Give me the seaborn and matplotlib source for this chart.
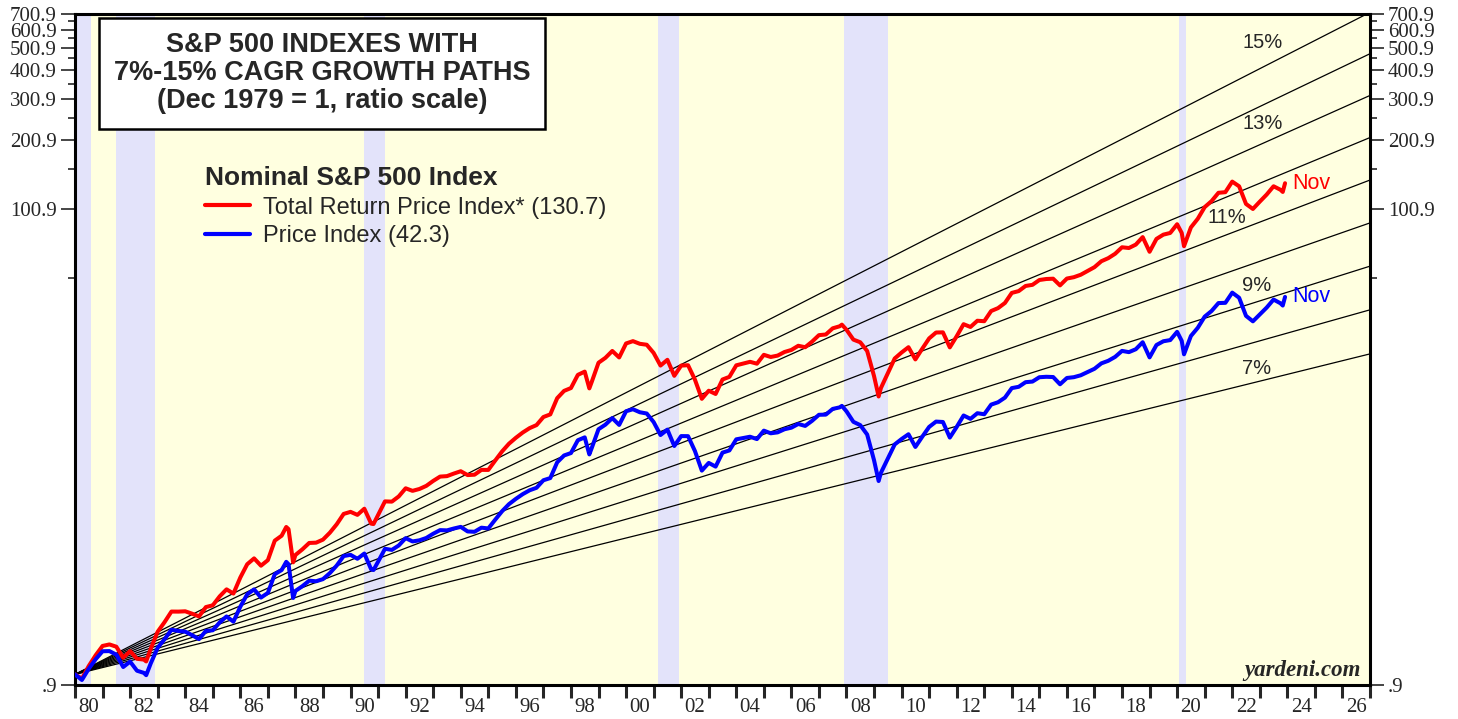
import numpy as np
import pandas as pd
import matplotlib
matplotlib.use("Agg")
import matplotlib.pyplot as plt
import seaborn as sns
from matplotlib.ticker import FixedLocator, NullFormatter

# DATA (Dec 1979 = 1, month-end values)
dates = [
    "1979-12", "1980-03", "1980-06", "1980-09", "1980-12", "1981-03", "1981-06", "1981-09", "1981-12",
    "1982-03", "1982-06", "1982-07", "1982-09", "1982-12", "1983-03", "1983-06", "1983-09", "1983-12",
    "1984-03", "1984-06", "1984-09", "1984-12", "1985-03", "1985-06", "1985-09", "1985-12",
    "1986-03", "1986-06", "1986-09", "1986-12", "1987-03", "1987-06", "1987-08", "1987-09", "1987-11", "1987-12",
    "1988-03", "1988-06", "1988-09", "1988-12", "1989-03", "1989-06", "1989-09", "1989-12",
    "1990-03", "1990-06", "1990-09", "1990-10", "1990-12", "1991-03", "1991-06", "1991-09", "1991-12",
    "1992-03", "1992-06", "1992-09", "1992-12", "1993-03", "1993-06", "1993-09", "1993-12",
    "1994-03", "1994-06", "1994-09", "1994-12", "1995-03", "1995-06", "1995-09", "1995-12",
    "1996-03", "1996-06", "1996-09", "1996-12", "1997-03", "1997-06", "1997-09", "1997-12",
    "1998-03", "1998-06", "1998-08", "1998-09", "1998-12", "1999-03", "1999-06", "1999-09", "1999-12",
    "2000-03", "2000-06", "2000-09", "2000-12", "2001-03", "2001-06", "2001-09", "2001-12",
    "2002-03", "2002-06", "2002-09", "2002-12", "2003-03", "2003-06", "2003-09", "2003-12",
    "2004-03", "2004-06", "2004-09", "2004-12", "2005-03", "2005-06", "2005-09", "2005-12",
    "2006-03", "2006-06", "2006-09", "2006-12", "2007-03", "2007-06", "2007-09", "2007-10", "2007-12",
    "2008-03", "2008-06", "2008-09", "2008-12", "2009-02", "2009-03", "2009-06", "2009-09", "2009-12",
    "2010-03", "2010-06", "2010-09", "2010-12", "2011-03", "2011-06", "2011-09", "2011-12",
    "2012-03", "2012-06", "2012-09", "2012-12", "2013-03", "2013-06", "2013-09", "2013-12",
    "2014-03", "2014-06", "2014-09", "2014-12", "2015-03", "2015-06", "2015-09", "2015-12",
    "2016-03", "2016-06", "2016-09", "2016-12", "2017-03", "2017-06", "2017-09", "2017-12",
    "2018-03", "2018-06", "2018-09", "2018-12", "2019-03", "2019-06", "2019-09", "2019-12",
    "2020-02", "2020-03", "2020-06", "2020-09", "2020-12", "2021-03", "2021-06", "2021-09", "2021-12",
    "2022-03", "2022-06", "2022-09", "2022-12", "2023-03", "2023-06", "2023-09", "2023-10", "2023-11",
]

price_index = [
    1.000, 0.946, 1.058, 1.162, 1.258, 1.260, 1.216, 1.076, 1.135,
    1.037, 1.015, 0.992, 1.116, 1.303, 1.417, 1.557, 1.539, 1.528,
    1.475, 1.419, 1.539, 1.549, 1.674, 1.777, 1.687, 1.957,
    2.213, 2.324, 2.143, 2.244, 2.702, 2.816, 3.055, 2.982, 2.134, 2.289,
    2.398, 2.534, 2.519, 2.573, 2.732, 2.946, 3.235, 3.274,
    3.149, 3.317, 2.835, 2.816, 3.059, 3.476, 3.439, 3.593, 3.864,
    3.740, 3.781, 3.871, 4.037, 4.184, 4.174, 4.252, 4.321,
    4.130, 4.116, 4.287, 4.255, 4.639, 5.047, 5.414, 5.706,
    5.980, 6.213, 6.368, 6.863, 7.014, 8.200, 8.776, 8.990,
    10.207, 10.504, 8.869, 9.422, 11.388, 11.917, 12.717, 11.883, 13.612,
    13.883, 13.476, 13.308, 12.232, 10.750, 11.343, 9.644, 10.636,
    10.630, 9.170, 7.553, 8.151, 7.858, 9.028, 9.227, 10.301,
    10.434, 10.569, 10.326, 11.228, 10.937, 11.037, 11.384, 11.565,
    11.996, 11.768, 12.376, 13.140, 13.163, 13.928, 14.144, 14.354, 13.603,
    12.254, 11.858, 10.806, 8.368, 6.810, 7.392, 8.517, 9.793, 10.331,
    10.834, 9.549, 10.572, 11.651, 12.283, 12.235, 10.482, 11.651,
    13.049, 12.620, 13.347, 13.213, 14.537, 14.881, 15.578, 17.124,
    17.346, 18.160, 18.272, 19.074, 19.158, 19.113, 17.788, 18.936,
    19.082, 19.444, 20.088, 20.741, 21.889, 22.451, 23.340, 24.769,
    24.466, 25.184, 26.996, 23.224, 26.259, 27.254, 27.578, 29.931,
    27.369, 23.944, 28.722, 31.156, 34.798, 36.806, 39.814, 39.907, 44.156,
    41.971, 35.069, 33.219, 35.571, 38.070, 41.230, 39.726, 38.853, 42.318,
]

total_return = [
    1.000, 0.959, 1.087, 1.209, 1.326, 1.346, 1.316, 1.179, 1.260,
    1.167, 1.158, 1.137, 1.291, 1.527, 1.679, 1.865, 1.864, 1.870,
    1.826, 1.777, 1.950, 1.984, 2.168, 2.325, 2.230, 2.615,
    2.983, 3.161, 2.940, 3.106, 3.769, 3.959, 4.317, 4.225, 3.039, 3.269,
    3.456, 3.684, 3.695, 3.808, 4.079, 4.437, 4.914, 5.016,
    4.868, 5.175, 4.462, 4.444, 4.858, 5.565, 5.551, 5.846, 6.337,
    6.178, 6.294, 6.492, 6.818, 7.117, 7.150, 7.335, 7.506,
    7.225, 7.252, 7.607, 7.604, 8.343, 9.135, 9.862, 10.459,
    11.021, 11.513, 11.864, 12.854, 13.193, 15.494, 16.657, 17.135,
    19.526, 20.168, 17.073, 18.156, 22.024, 23.119, 24.754, 23.207, 26.666,
    27.287, 26.575, 26.330, 24.281, 21.414, 22.675, 19.346, 21.410,
    21.489, 18.615, 15.397, 16.685, 16.156, 18.647, 19.146, 21.467,
    21.844, 22.227, 21.814, 23.826, 23.318, 23.641, 24.498, 25.004,
    26.061, 25.690, 27.147, 28.961, 29.150, 30.990, 31.619, 32.139, 30.552,
    27.706, 26.983, 24.746, 19.288, 15.758, 17.142, 19.866, 22.974, 24.381,
    25.698, 22.760, 25.320, 28.044, 29.725, 29.774, 25.649, 28.661,
    32.283, 31.405, 33.408, 33.257, 36.793, 37.865, 39.849, 44.043,
    44.839, 47.180, 47.708, 50.050, 50.548, 50.707, 47.450, 50.786,
    51.464, 52.722, 54.760, 56.851, 60.304, 62.156, 64.932, 69.254,
    68.749, 71.120, 76.615, 66.235, 75.258, 78.505, 79.838, 87.069,
    79.863, 69.988, 84.342, 91.910, 103.141, 109.498, 118.905, 119.641, 132.865,
    126.836, 106.452, 101.285, 108.918, 116.856, 126.865, 122.535, 119.939, 130.763,
]

growth_rates = [0.07, 0.08, 0.09, 0.10, 0.11, 0.12, 0.13, 0.14, 0.15]
recessions = [("1980-01", "1980-07"), ("1981-07", "1982-11"), ("1990-07", "1991-03"),
              ("2001-03", "2001-11"), ("2007-12", "2009-06"), ("2020-02", "2020-04")]

# labels of the growth paths: (text, year, level)
path_labels = [("15%", 2023.1, 527), ("13%", 2023.1, 236), ("11%", 2021.8, 93),
               ("9%", 2022.9, 47.2), ("7%", 2022.9, 20.7)]

y_major = [0.9, 100.9, 200.9, 300.9, 400.9, 500.9, 600.9, 700.9]
y_minor = [50.9, 150.9, 250.9, 350.9, 450.9, 550.9, 650.9]


def to_year(s):
    # month-end as decimal year
    y, m = s.split("-")
    return int(y) + int(m) / 12.0


df = pd.DataFrame({
    "t": [to_year(d) for d in dates],
    "Total Return Price Index* (130.7)": total_return,
    "Price Index (42.3)": price_index,
})
long = df.melt(id_vars="t", var_name="series", value_name="v")

sns.set_style("ticks")
plt.rcParams["font.family"] = ["Liberation Sans", "DejaVu Sans"]

fig = plt.figure(figsize=(14.58, 7.19), dpi=100)
ax = fig.add_axes([75 / 1458, 1 - 685 / 719, 1295 / 1458, 671 / 719])
ax.set_facecolor("#FFFFE0")

x0, x1 = 1980.0, 2027.0
for a, b in recessions:
    ax.axvspan(to_year(a) - 1 / 12, to_year(b), color="#E3E3FA", lw=0, zorder=0)

# CAGR growth paths
tt = np.linspace(x0, x1, 200)
for r in growth_rates:
    ax.plot(tt, (1 + r) ** (tt - x0), color="black", lw=0.9, zorder=2)
for txt, yr, lvl in path_labels:
    ax.text(yr, lvl, txt, fontsize=14.5, ha="center", va="center", zorder=4)

sns.lineplot(data=long, x="t", y="v", hue="series",
             palette={"Total Return Price Index* (130.7)": "#FF0000", "Price Index (42.3)": "#0000FF"},
             lw=2.9, ax=ax, zorder=3)

# Nov labels at the end of each series
ax.annotate("Nov", (df["t"].iloc[-1], total_return[-1]), xytext=(5, 0), textcoords="offset points",
            color="#FF0000", fontsize=15.5, va="center")
ax.annotate("Nov", (df["t"].iloc[-1], price_index[-1]), xytext=(5, 0), textcoords="offset points",
            color="#0000FF", fontsize=15.5, va="center")

ax.set_yscale("log")
ax.set_ylim(0.9, 700.9)
ax.set_xlim(x0, x1)
ax.set_xlabel("")
ax.set_ylabel("")

# y axis on both sides
ax.yaxis.set_major_locator(FixedLocator(y_major))
ax.yaxis.set_minor_locator(FixedLocator(y_minor))
ax.set_yticklabels([".9"] + [f"{v:.1f}" for v in y_major[1:]])
ax.yaxis.set_minor_formatter(NullFormatter())
ax.tick_params(axis="y", which="major", direction="out", length=10, width=1.2,
               left=True, right=True, labelleft=True, labelright=True, pad=3)
ax.tick_params(axis="y", which="minor", direction="out", length=5, width=1.2, left=True, right=True)

# x axis: a tick each year, labels of even years at mid-year
years = list(range(1980, 2028))
label_years = list(range(1980, 2027, 2))
ax.set_xticks(years)
ax.set_xticklabels([""] * len(years))
ax.set_xticks([y + 0.5 for y in label_years], minor=True)
ax.set_xticklabels([f"{y % 100:02d}" for y in label_years], minor=True)
ax.tick_params(axis="x", which="major", direction="out", length=9, width=2.2)
ax.tick_params(axis="x", which="minor", length=0, pad=9)

for lab in ax.get_xticklabels(minor=True):
    lab.set_fontfamily("Liberation Serif")
    lab.set_fontsize(15)
for t in ax.yaxis.get_major_ticks():
    for lab in (t.label1, t.label2):
        lab.set_fontfamily("Liberation Serif")
        lab.set_fontsize(15)

for s in ax.spines.values():
    s.set_visible(True)
    s.set_linewidth(2.2)
    s.set_color("black")

# legend
leg = ax.legend(title="Nominal S&P 500 Index", loc="upper left",
                bbox_to_anchor=(130 / 1295, 1 - 152 / 671), frameon=False,
                fontsize=17, handlelength=1.9, handletextpad=0.55,
                labelspacing=0.28, alignment="left", borderaxespad=0, borderpad=0)
leg.get_title().set_fontweight("bold")
leg.get_title().set_fontsize(19)
for h in leg.get_lines():
    h.set_linewidth(3)

# title box
ax.text((322 - 75) / 1295, 1 - (73.5 - 14) / 671,
        "S&P 500 INDEXES WITH\n7%-15% CAGR GROWTH PATHS\n(Dec 1979 = 1, ratio scale)",
        transform=ax.transAxes, ha="center", va="center", fontsize=19.5, fontweight="bold",
        linespacing=1.1, zorder=6,
        bbox=dict(boxstyle="square,pad=0.55", fc="white", ec="black", lw=1.8))

ax.text(0.993, 0.022, "yardeni.com", transform=ax.transAxes, ha="right", va="center",
        fontsize=16.5, fontweight="bold", fontstyle="italic", family="Liberation Serif", zorder=6)

fig.savefig("out.png", dpi=100)
